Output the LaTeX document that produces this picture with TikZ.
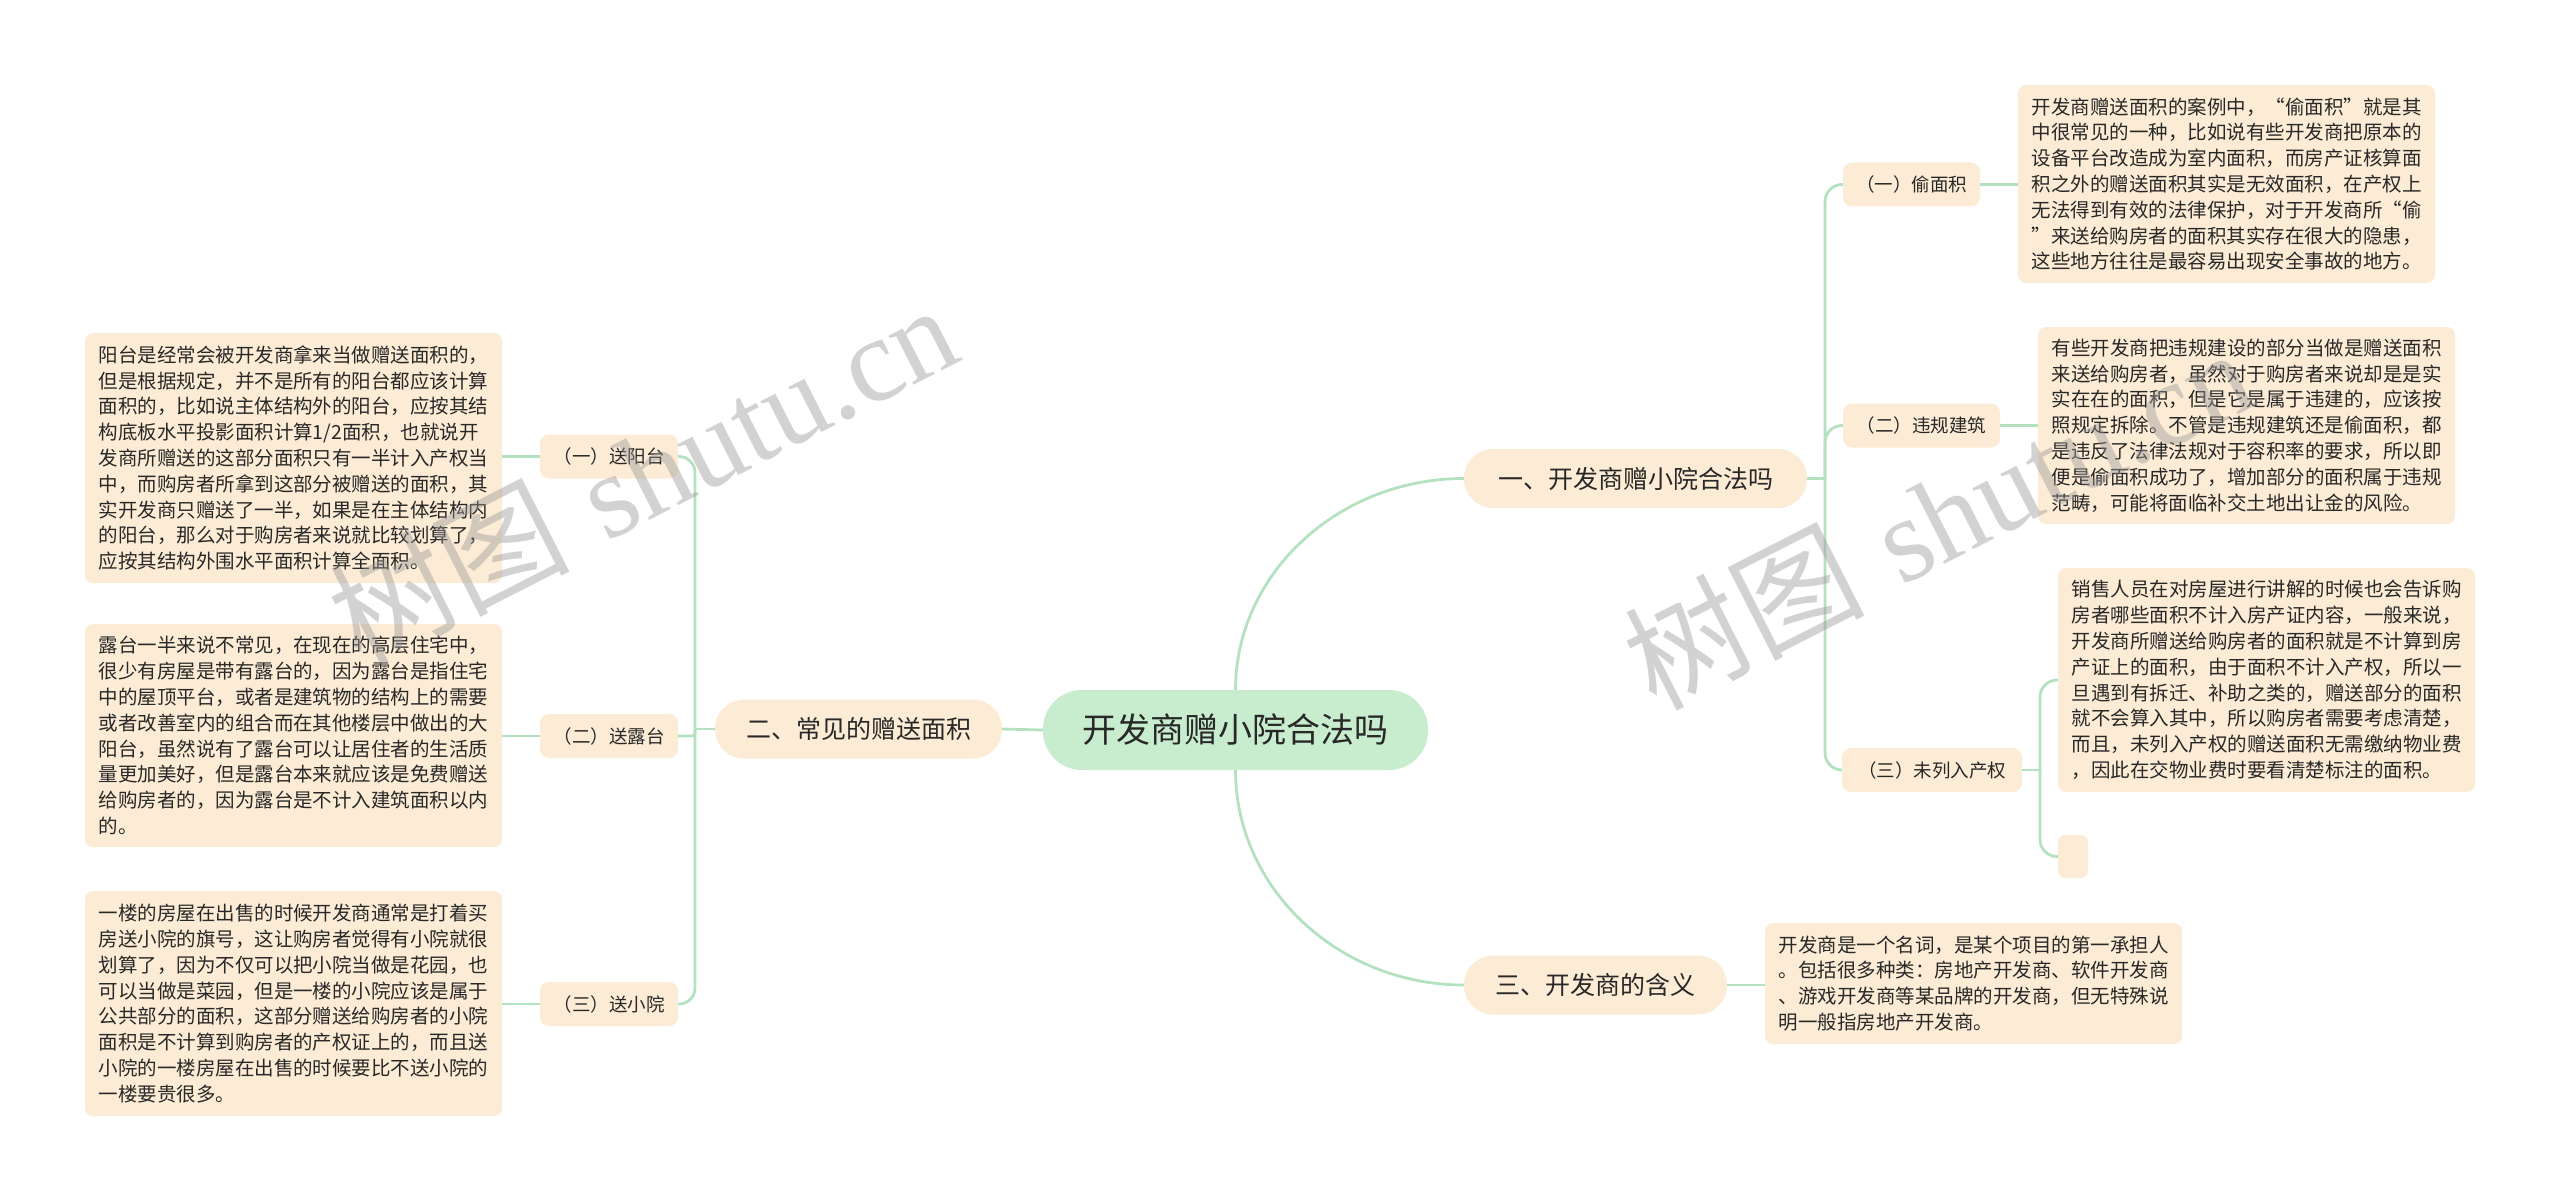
\documentclass[tikz,border=0pt]{standalone}
\usepackage{fontspec}
\setmainfont{Noto Sans CJK SC}
\newfontfamily\wmserif{Liberation Serif}
\definecolor{lk}{RGB}{180,226,193}
\definecolor{peach}{RGB}{253,236,213}
\definecolor{mint}{RGB}{200,236,206}
\definecolor{ink}{RGB}{40,40,40}
\definecolor{wmgray}{RGB}{150,150,150}
\begin{document}
\begin{tikzpicture}[x=1pt,y=-1pt,
 link/.style={draw=lk,line width=2.8pt},
 leaf/.style={fill=peach,rounded corners=8pt,inner sep=0pt,align=left,text=ink,font=\fontsize{19.5}{25.8}\selectfont,minimum width=417pt},
 blank/.style={fill=peach,rounded corners=7pt,inner sep=0pt,minimum width=30pt,minimum height=43pt},
 sub/.style={fill=peach,rounded corners=9pt,inner sep=0pt,text=ink,font=\fontsize{18.5}{22}\selectfont,minimum height=44pt},
 branch/.style={fill=peach,rounded corners=29pt,inner sep=0pt,text=ink,font=\fontsize{25}{30}\selectfont,minimum height=59pt},
 root/.style={fill=mint,rounded corners=39pt,inner sep=0pt,text=ink,font=\fontsize{34}{40}\selectfont,minimum width=385pt,minimum height=80pt},
 wm/.style={text=wmgray,opacity=0.42,inner sep=0pt,font=\fontsize{120}{125}\selectfont}
]
\useasboundingbox[fill=white] (0,0) rectangle (2560,1201);

% root and branches
\node[root] (c) at (1235.5,730) {开发商赠小院合法吗};
\node[branch,minimum width=343pt] (b1) at (1635.5,478.5) {一、开发商赠小院合法吗};
\node[branch,minimum width=287pt] (b2) at (858.5,729) {二、常见的赠送面积};
\node[branch,minimum width=263pt] (b3) at (1595.5,985) {三、开发商的含义};

% sub nodes
\node[sub,minimum width=137pt] (r1) at (1911.5,184.5) {（一）偷面积};
\node[sub,minimum width=157pt] (r2) at (1921.5,425.5) {（二）违规建筑};
\node[sub,minimum width=180pt] (r3) at (1932,770) {（三）未列入产权};
\node[sub,minimum width=138pt] (l1) at (609,456.5) {（一）送阳台};
\node[sub,minimum width=138pt] (l2) at (609,736) {（二）送露台};
\node[sub,minimum width=138pt] (l3) at (609,1004) {（三）送小院};

% leaves
\node[leaf,minimum height=198pt] (A) at (2226.5,184) {开发商赠送面积的案例中，“偷面积”就是其\\中很常见的一种，比如说有些开发商把原本的\\设备平台改造成为室内面积，而房产证核算面\\积之外的赠送面积其实是无效面积，在产权上\\无法得到有效的法律保护，对于开发商所“偷\\”来送给购房者的面积其实存在很大的隐患，\\这些地方往往是最容易出现安全事故的地方。};
\node[leaf,minimum height=197pt] (B) at (2246.5,425.5) {有些开发商把违规建设的部分当做是赠送面积\\来送给购房者，虽然对于购房者来说却是是实\\实在在的面积，但是它是属于违建的，应该按\\照规定拆除。不管是违规建筑还是偷面积，都\\是违反了法律法规对于容积率的要求，所以即\\便是偷面积成功了，增加部分的面积属于违规\\范畴，可能将面临补交土地出让金的风险。};
\node[leaf,minimum height=224pt] (C) at (2266.5,680) {销售人员在对房屋进行讲解的时候也会告诉购\\房者哪些面积不计入房产证内容，一般来说，\\开发商所赠送给购房者的面积就是不计算到房\\产证上的面积，由于面积不计入产权，所以一\\旦遇到有拆迁、补助之类的，赠送部分的面积\\就不会算入其中，所以购房者需要考虑清楚，\\而且，未列入产权的赠送面积无需缴纳物业费\\，因此在交物业费时要看清楚标注的面积。};
\node[blank] (E0) at (2073,856.5) {};
\node[leaf,minimum height=121pt] (D) at (1973.5,983.5) {开发商是一个名词，是某个项目的第一承担人\\。包括很多种类：房地产开发商、软件开发商\\、游戏开发商等某品牌的开发商，但无特殊说\\明一般指房地产开发商。};
\node[leaf,minimum height=250pt] (E) at (293.5,458) {阳台是经常会被开发商拿来当做赠送面积的，\\但是根据规定，并不是所有的阳台都应该计算\\面积的，比如说主体结构外的阳台，应按其结\\构底板水平投影面积计算1/2面积，也就说开\\发商所赠送的这部分面积只有一半计入产权当\\中，而购房者所拿到这部分被赠送的面积，其\\实开发商只赠送了一半，如果是在主体结构内\\的阳台，那么对于购房者来说就比较划算了，\\应按其结构外围水平面积计算全面积。};
\node[leaf,minimum height=223pt] (F) at (293.5,735.5) {露台一半来说不常见，在现在的高层住宅中，\\很少有房屋是带有露台的，因为露台是指住宅\\中的屋顶平台，或者是建筑物的结构上的需要\\或者改善室内的组合而在其他楼层中做出的大\\阳台，虽然说有了露台可以让居住者的生活质\\量更加美好，但是露台本来就应该是免费赠送\\给购房者的，因为露台是不计入建筑面积以内\\的。};
\node[leaf,minimum height=225pt] (G) at (293.5,1003.5) {一楼的房屋在出售的时候开发商通常是打着买\\房送小院的旗号，这让购房者觉得有小院就很\\划算了，因为不仅可以把小院当做是花园，也\\可以当做是菜园，但是一楼的小院应该是属于\\公共部分的面积，这部分赠送给购房者的小院\\面积是不计算到购房者的产权证上的，而且送\\小院的一楼房屋在出售的时候要比不送小院的\\一楼要贵很多。};

% connectors: root
\draw[link] (c.north) .. controls (1235.5,573.7) and (1338.3,478.5) .. (b1.west);
\draw[link] (c.south) .. controls (1235.5,888.3) and (1338.3,985) .. (b3.west);
\draw[link] (c.west) -- (b2.east);

% branch 1
\coordinate (t1) at (1825,478.5);
\draw[link] (b1.east) -- (t1);
\draw[link,rounded corners=17pt] (t1) |- (r1.west);
\draw[link,rounded corners=17pt] (t1) |- (r2.west);
\draw[link,rounded corners=17pt] (t1) |- (r3.west);
\draw[link] (r1.east) -- (r1.east -| A.west);
\draw[link] (r2.east) -- (r2.east -| B.west);
\coordinate (t3) at (2040,770);
\draw[link] (r3.east) -- (t3);
\draw[link,rounded corners=17pt] (t3) |- (C.west);
\draw[link,rounded corners=17pt] (t3) |- (E0.west);

% branch 2
\coordinate (t2) at (695,729);
\draw[link] (b2.west) -- (t2);
\draw[link,rounded corners=16pt] (t2) |- (l1.east);
\draw[link,rounded corners=3pt] (t2) |- (l2.east);
\draw[link,rounded corners=16pt] (t2) |- (l3.east);
\draw[link] (l1.west) -- (l1.west -| E.east);
\draw[link] (l2.west) -- (l2.west -| F.east);
\draw[link] (l3.west) -- (l3.west -| G.east);

% branch 3
\draw[link] (b3.east) -- (b3.east -| D.west);

% watermarks
\node[wm,anchor=base west,rotate=27] (w1) at (360,668) {树图\hspace{0.3em}{\wmserif shutu.cn}};
\node[wm,anchor=base west,rotate=27] (w2) at (1655,712) {树图\hspace{0.3em}{\wmserif shutu.cn}};
\end{tikzpicture}
\end{document}
